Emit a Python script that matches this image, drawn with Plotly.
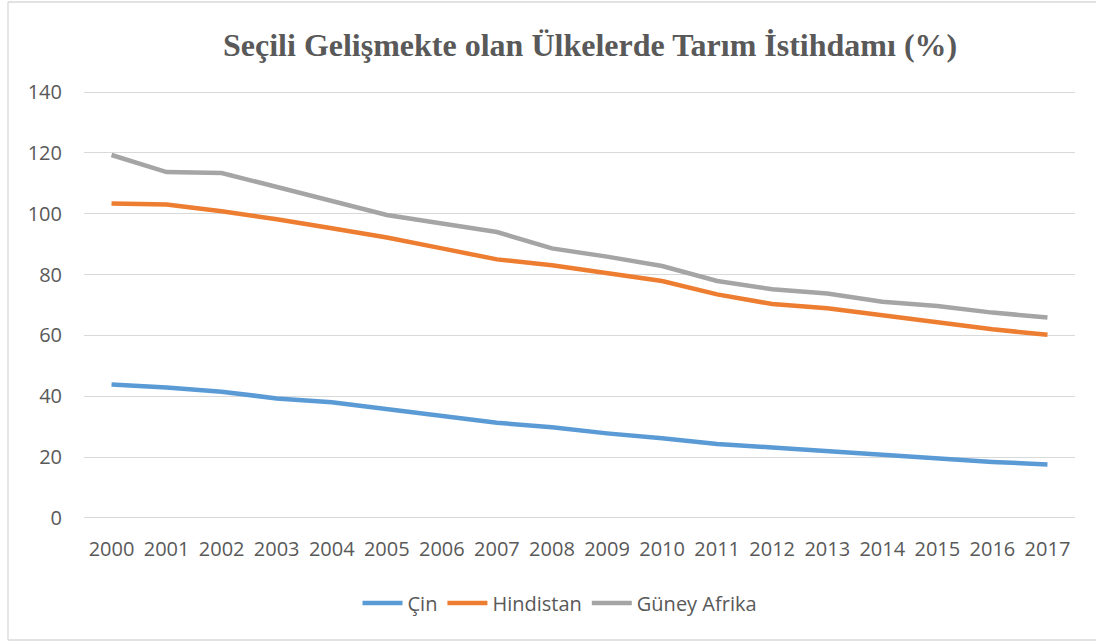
import plotly.graph_objects as go

years = [str(y) for y in range(2000, 2018)]
cin = [43.9, 42.9, 41.5, 39.3, 38.0, 35.8, 33.5, 31.3, 29.8, 27.8, 26.2, 24.3, 23.2, 22.0, 20.8, 19.6, 18.4, 17.6]
hindistan = [103.4, 103.0, 100.8, 98.2, 95.2, 92.2, 88.6, 85.0, 83.1, 80.4, 77.9, 73.5, 70.3, 68.9, 66.6, 64.2, 62.0, 60.2]
guney_afrika = [119.3, 113.7, 113.4, 108.9, 104.3, 99.6, 96.8, 94.0, 88.6, 85.9, 82.8, 77.9, 75.2, 73.8, 71.1, 69.7, 67.5, 65.9]
y_ticks = [0, 20, 40, 60, 80, 100, 120, 140]

series = [
    ("Çin", cin, "#5B9BD5"),
    ("Hindistan", hindistan, "#ED7D31"),
    ("Güney Afrika", guney_afrika, "#A5A5A5"),
]

fig = go.Figure()
for name, vals, col in series:
    fig.add_trace(go.Scatter(x=years, y=vals, name=name, mode="lines",
                             line=dict(color=col, width=4.5)))

# plot area in pixels
left_px, right_px = 84, 1075
top_px, bot_px = 89, 521
plot_w = right_px - left_px
plot_h = bot_px - top_px

def px(pix):
    return (pix - left_px) / plot_w

def py(pix):
    return (bot_px - pix) / plot_h

font_fam = "Open Sans"
fig.update_layout(
    width=1096, height=641,
    margin=dict(l=left_px, r=1096 - right_px, t=top_px, b=641 - bot_px),
    paper_bgcolor="white", plot_bgcolor="white",
    font=dict(family=font_fam, size=20, color="#595959"),
    showlegend=True,
    legend=dict(orientation="h", x=px(560), xanchor="center", y=py(603), yanchor="middle",
                font=dict(family=font_fam, size=20, color="#595959"),
                itemwidth=40, tracegroupgap=0),
    xaxis=dict(type="category", range=[-0.5, 17.5], showgrid=False, showline=False,
               zeroline=False, ticks="", ticklabelstandoff=14,
               tickfont=dict(family=font_fam, size=20, color="#595959")),
    yaxis=dict(range=[-1, 141], tickvals=y_ticks, showgrid=True, gridcolor="#D9D9D9",
               gridwidth=1.3, zeroline=False, showline=False, ticks="",
               ticklabelstandoff=21,
               tickfont=dict(family=font_fam, size=20, color="#595959")),
)

fig.add_annotation(text="<b>Seçili Gelişmekte olan Ülkelerde Tarım İstihdamı (%)</b>",
                   xref="paper", yref="paper", x=px(590), y=py(45),
                   xanchor="center", yanchor="middle", showarrow=False,
                   font=dict(family="Liberation Serif", size=32, color="#595959"))

border = dict(color="#D9D9D9", width=1.3)
fig.add_shape(type="line", xref="paper", yref="paper", x0=px(8), x1=px(8),
              y0=py(640), y1=py(2), line=border, layer="below")
fig.add_shape(type="line", xref="paper", yref="paper", x0=px(8), x1=px(1100),
              y0=py(2), y1=py(2), line=border, layer="below")
fig.add_shape(type="line", xref="paper", yref="paper", x0=px(8), x1=px(1100),
              y0=py(640), y1=py(640), line=border, layer="below")

fig.write_html("out.html", config={"displayModeBar": False},
               post_script="document.body.style.margin='0px';document.body.style.overflow='hidden';")
